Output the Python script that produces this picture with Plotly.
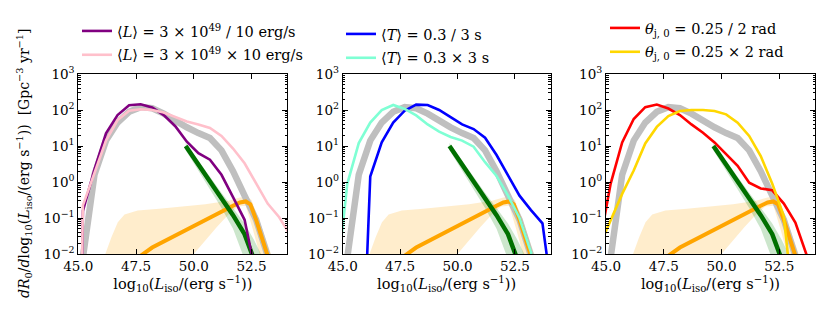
import numpy as np
import plotly.graph_objects as go

# ---------------- data (log10 of rate, Gpc^-3 yr^-1) ----------------
lum_grid = [44.7, 45.2, 45.7, 46.2, 46.7, 47.2, 47.7, 48.2, 48.7, 49.2,
            49.7, 50.2, 50.7, 51.2, 51.7, 52.2, 52.7, 53.2, 53.7, 54.2]

grey_log = [-20, -2.1, 0.2, 1.15, 1.65, 1.95, 2.08, 2.05, 1.9, 1.7,
            1.52, 1.36, 1.22, 0.88, 0.3, -0.38, -1.05, -2.05, -20, -20]

purple_log = [-20, -0.8, 0.35, 1.35, 1.86, 2.13, 2.16, 2.07, 1.86, 1.55,
              1.12, 0.8, 0.62, 0.2, -0.42, -1.05, -2.6, -20, -20, -20]
pink_log = [-20, -0.65, 0.25, 1.15, 1.72, 1.98, 2.02, 2.0, 1.93, 1.8,
            1.68, 1.6, 1.5, 1.28, 0.93, 0.52, -0.03, -0.6, -0.98, -1.5]

blue_log = [-20, -20, -8, 0.15, 1.1, 1.65, 1.98, 2.15, 2.14, 2.0,
            1.8, 1.6, 1.47, 1.23, 0.75, 0.18, -0.38, -0.78, -1.15, -3.5]
aqua_log = [-3.0, -0.05, 1.08, 1.65, 2.0, 2.14, 2.03, 1.85, 1.6, 1.4,
            1.25, 1.15, 0.98, 0.55, 0.17, -0.38, -1.0, -1.95, -4, -20]

red_log = [-1.8, -0.05, 1.1, 1.75, 2.08, 2.15, 2.04, 1.86, 1.6, 1.37,
           1.1, 0.78, 0.45, -0.02, -0.18, -0.23, -0.6, -1.13, -2.05, -20]
gold_log = [-1.8, -1.05, -0.33, 0.32, 1.07, 1.53, 1.83, 1.97, 2.0, 2.0,
            1.97, 1.88, 1.65, 1.28, 0.72, -0.05, -0.95, -4, -20, -20]

green_x = [49.65, 50.2, 50.7, 51.2, 51.7, 52.2, 52.6, 52.75]
green_log = [1.0, 0.48, 0.02, -0.45, -0.92, -1.45, -2.05, -2.4]
green_band_x = [49.65, 50.2, 50.7, 51.2, 51.7, 52.2, 52.6, 52.95]
green_band_hi = [1.08, 0.58, 0.12, -0.3, -0.72, -1.15, -1.6, -2.05]
green_band_lo = [0.88, 0.3, -0.2, -0.72, -1.3, -2.15, -3.0, -3.5]

orange_x = [47.2, 47.7, 48.2, 48.7, 49.2, 49.7, 50.2, 50.7, 51.2, 51.7,
            52.0, 52.25, 52.45, 52.7, 53.0, 53.3]
orange_log = [-2.4, -2.05, -1.82, -1.65, -1.49, -1.32, -1.15, -0.99, -0.82, -0.66,
              -0.57, -0.54, -0.62, -1.05, -1.65, -2.25]
orange_hi_x = [46.0, 46.17, 46.43, 46.71, 47.0, 47.57, 48.5, 49.5, 50.5, 51.5,
               52.0, 52.3, 52.5, 52.75, 53.05, 53.4]
orange_hi = [-3.0, -2.0, -1.54, -1.12, -0.9, -0.79, -0.74, -0.68, -0.62, -0.52,
             -0.43, -0.4, -0.5, -0.92, -1.45, -2.1]
orange_lo_x = [49.8, 50.0, 50.5, 51.0, 51.5, 51.9, 52.25, 52.55, 52.85, 53.0]
orange_lo = [-2.4, -2.0, -1.62, -1.25, -0.9, -0.68, -0.66, -1.3, -2.0, -2.5]

legend_texts = [
    ["⟨<i>L</i>⟩ = 3 × 10<sup>49</sup> / 10 erg/s", "⟨<i>L</i>⟩ = 3 × 10<sup>49</sup> × 10 erg/s"],
    ["⟨<i>T</i>⟩ = 0.3 / 3 s", "⟨<i>T</i>⟩ = 0.3 × 3 s"],
    ["<i>θ</i><sub>j, 0</sub> = 0.25 / 2 rad", "<i>θ</i><sub>j, 0</sub> = 0.25 × 2 rad"],
]
panel_series = [(purple_log, pink_log), (blue_log, aqua_log), (red_log, gold_log)]
panel_colors = [("#800080", "#ffc0cb"), ("#0000ff", "#7fffd4"), ("#ff0000", "#ffd700")]

ytick_vals = [1e-2, 1e-1, 1e0, 1e1, 1e2, 1e3]
ytick_text = ["10<sup>−2</sup>", "10<sup>−1</sup>", "10<sup>0</sup>",
              "10<sup>1</sup>", "10<sup>2</sup>", "10<sup>3</sup>"]
xtick_vals = [45.0, 47.5, 50.0, 52.5]
xtick_text = ["45.0", "47.5", "50.0", "52.5"]

FONT = "DejaVu Serif"
W, H = 830, 312

def p(v):
    return np.power(10.0, np.array(v, dtype=float))

fig = go.Figure()

x_domains = [(78.3, 287.3), (342.7, 550.5), (606.0, 815.0)]
legend_x = [77, 341, 605]
legend_y = [15, 18, 12]

for i in range(3):
    xa = "x" if i == 0 else f"x{i+1}"
    ya = "y" if i == 0 else f"y{i+1}"
    lg = "legend" if i == 0 else f"legend{i+1}"
    # orange band
    fig.add_trace(go.Scatter(
        x=orange_hi_x + orange_lo_x[::-1], y=p(orange_hi + orange_lo[::-1]),
        fill="toself", fillcolor="rgba(255,165,0,0.2)", line=dict(width=0),
        mode="lines", showlegend=False, hoverinfo="skip", xaxis=xa, yaxis=ya))
    # green band
    fig.add_trace(go.Scatter(
        x=green_band_x + green_band_x[::-1], y=p(green_band_hi + green_band_lo[::-1]),
        fill="toself", fillcolor="rgba(0,128,0,0.2)", line=dict(width=0),
        mode="lines", showlegend=False, hoverinfo="skip", xaxis=xa, yaxis=ya))
    # grey baseline
    fig.add_trace(go.Scatter(x=lum_grid, y=p(grey_log), mode="lines",
                             line=dict(color="#bfbfbf", width=6.5),
                             showlegend=False, xaxis=xa, yaxis=ya))
    # orange line
    fig.add_trace(go.Scatter(x=orange_x, y=p(orange_log), mode="lines",
                             line=dict(color="#ffa500", width=4),
                             showlegend=False, xaxis=xa, yaxis=ya))
    # green line
    fig.add_trace(go.Scatter(x=green_x, y=p(green_log), mode="lines",
                             line=dict(color="#007000", width=4.5),
                             showlegend=False, xaxis=xa, yaxis=ya))
    # varied curves
    for j in range(2):
        fig.add_trace(go.Scatter(x=lum_grid, y=p(panel_series[i][j]), mode="lines",
                                 line=dict(color=panel_colors[i][j], width=2.6),
                                 name=legend_texts[i][j], legend=lg,
                                 legendgroup=f"g{i}{j}",
                                 xaxis=xa, yaxis=ya))

    d0, d1 = x_domains[i]
    axis_common = dict(showline=True, linecolor="black", linewidth=1, mirror="allticks",
                       ticks="inside", ticklen=5, tickcolor="black", showgrid=False,
                       zeroline=False, automargin=False,
                       tickfont=dict(family=FONT, size=13.5, color="black"))
    xkey = "xaxis" if i == 0 else f"xaxis{i+1}"
    ykey = "yaxis" if i == 0 else f"yaxis{i+1}"
    fig.update_layout({
        xkey: dict(domain=[d0 / W, d1 / W], range=[45.0, 54.05], anchor=ya,
                   tickmode="array", tickvals=xtick_vals, ticktext=xtick_text,
                   title=dict(text="log<sub>10</sub>(<i>L</i><sub>iso</sub>/(erg s<sup>−1</sup>))",
                              font=dict(family=FONT, size=14.5, color="black"), standoff=5),
                   **axis_common),
        ykey: dict(domain=[0, 1], type="log", range=[-2, 3], anchor=xa,
                   tickmode="array", tickvals=ytick_vals, ticktext=ytick_text,
                   minor=dict(ticks="inside", ticklen=2.5, tickcolor="black",
                              tickvals=[m * 10 ** e for e in range(-2, 3) for m in range(2, 10)]),
                   **axis_common),
        lg: dict(x=legend_x[i] / W, xanchor="left", y=(254 - legend_y[i]) / 180.0, yanchor="top",
                 bgcolor="rgba(0,0,0,0)", font=dict(family=FONT, size=14.5, color="black"),
                 itemwidth=30, traceorder="grouped", tracegroupgap=2),
    })

fig.add_annotation(
    text="<i>dR</i><sub>0</sub>/<i>d</i>log<sub>10</sub>(<i>L</i><sub>iso</sub>/(erg s<sup>−1</sup>))  [Gpc<sup>−3</sup> yr<sup>−1</sup>]",
    xref="paper", yref="paper", x=24 / W, y=(254 - 163) / 180.0, xanchor="center", yanchor="middle",
    textangle=-90, showarrow=False, font=dict(family=FONT, size=14, color="black"))

fig.update_layout(width=W, height=H, margin=dict(l=0, r=0, t=74, b=58, autoexpand=False),
                  paper_bgcolor="white", plot_bgcolor="white",
                  font=dict(family=FONT, size=13, color="black"))

fig.write_html("out.html", config={"displayModeBar": False},
               post_script="document.body.style.margin='0';document.body.style.overflow='hidden';")
